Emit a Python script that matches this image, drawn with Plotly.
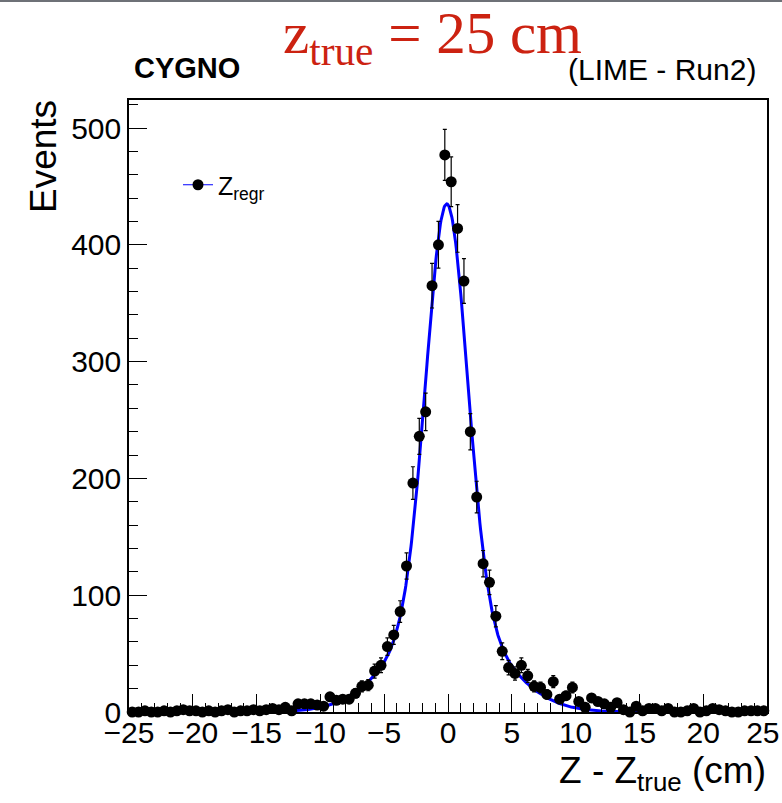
import numpy as np
import plotly.graph_objects as go

# ---------------- data ----------------
bin_low = -25.0
bin_width = 0.5
counts_left = [0, 0, 1, 0, 0, 1, 0, 1, 2, 1,
               1, 0, 1, 0, 1, 2, 0, 1, 1, 2,
               1, 2, 3, 2, 4, 1, 7, 7, 7, 6,
               5, 13, 10, 11, 11, 16, 22, 23, 35, 40,
               56, 66, 86, 125, 196, 236, 257, 365, 400, 477]
counts_right = [454, 414, 369, 240, 184, 127, 111, 82, 52, 38,
                33, 40, 31, 22, 21, 15, 26, 11, 14, 21,
                9, 4, 12, 9, 7, 4, 8, 2, 0, 5,
                1, 3, 3, 1, 3, 0, 0, 1, 3, 0,
                1, 3, 2, 1, 0, 0, 1, 1, 1, 1]
counts = np.array(counts_left + counts_right, dtype=float)
centers = bin_low + bin_width * (np.arange(len(counts)) + 0.5)
errors = np.sqrt(counts)

# fit (double gaussian) parameters
fit_mean = -0.1
fit_amp1, fit_sigma1 = 351.0, 1.6
fit_amp2, fit_sigma2 = 84.0, 4.0

x_ticks = [-25, -20, -15, -10, -5, 0, 5, 10, 15, 20, 25]
x_tick_labels = ["\u221225", "\u221220", "\u221215", "\u221210", "\u22125",
                 "0", "5", "10", "15", "20", "25\u00a0"]
y_ticks = [0, 100, 200, 300, 400, 500]

xf = np.linspace(-25, 25, 1001)
yf = (fit_amp1 * np.exp(-0.5 * ((xf - fit_mean) / fit_sigma1) ** 2)
      + fit_amp2 * np.exp(-0.5 * ((xf - fit_mean) / fit_sigma2) ** 2))

# ---------------- figure ----------------
W, H = 782, 803
L, R, T, B = 129, 15, 100, 91
pw, ph = W - L - R, H - T - B


def px(xp):
    return (xp - L) / pw


def py(yp):
    return (H - B - yp) / ph


SANS = "Liberation Sans, Arial, sans-serif"
SERIF = "Liberation Serif, Times New Roman, serif"

fig = go.Figure()
fig.add_trace(go.Scatter(x=xf, y=yf, mode="lines",
                         line=dict(color="#0000ff", width=3),
                         showlegend=False, hoverinfo="skip"))
fig.add_trace(go.Scatter(x=centers, y=counts, mode="markers",
                         marker=dict(color="black", size=11),
                         error_y=dict(type="data", array=errors, visible=True,
                                      color="black", thickness=1.2, width=2),
                         cliponaxis=False, showlegend=False))
fig.add_trace(go.Scatter(x=[None], y=[None], mode="lines+markers",
                         line=dict(color="#0000ff", width=1),
                         marker=dict(color="black", size=11),
                         name="Z<sub>regr</sub>"))

axis_common = dict(showgrid=False, zeroline=False, showline=True,
                   linecolor="black", linewidth=1.5, mirror=True,
                   ticks="inside", ticklen=18, tickwidth=1, tickcolor="black",
                   ticklabeloverflow="allow", automargin=False,
                   tickfont=dict(family=SANS, size=30, color="black"))

fig.update_xaxes(range=[-25, 25], tickvals=x_ticks, ticktext=x_tick_labels,
                 ticklabelstandoff=-7,
                 minor=dict(dtick=1, tick0=-25, ticks="inside", ticklen=9,
                            tickcolor="black", tickwidth=1),
                 **axis_common)
fig.update_yaxes(range=[0, 524], tickvals=y_ticks,
                 minor=dict(dtick=20, tick0=0, ticks="inside", ticklen=9,
                            tickcolor="black", tickwidth=1),
                 **axis_common)

annotations = [
    dict(text="<b>CYGNO</b>", x=px(132), y=py(68), xanchor="left", yanchor="middle",
         font=dict(family=SANS, size=29, color="black")),
    dict(text="(LIME - Run2)", x=px(758), y=py(70), xanchor="right", yanchor="middle",
         font=dict(family=SANS, size=30, color="black")),
    dict(text="z<sub>true</sub> = 25 cm", x=px(281), y=py(37), xanchor="left",
         yanchor="middle", font=dict(family=SERIF, size=59, color="#cc2211")),
    dict(text="Events", x=px(43), y=py(157), xanchor="center", yanchor="middle",
         textangle=-90, font=dict(family=SANS, size=37, color="black")),
    dict(text="Z - Z<sub>true</sub> (cm)", x=px(768), y=py(773), xanchor="right",
         yanchor="middle", font=dict(family=SANS, size=37, color="black")),
]
for a in annotations:
    a.update(xref="paper", yref="paper", showarrow=False)

fig.update_layout(
    width=W, height=H,
    margin=dict(l=L, r=R, t=T, b=B, pad=0, autoexpand=False),
    plot_bgcolor="white", paper_bgcolor="white",
    annotations=annotations,
    legend=dict(x=px(178), y=py(185), xanchor="left", yanchor="middle",
                bgcolor="rgba(0,0,0,0)", font=dict(family=SANS, size=25, color="black")),
    shapes=[dict(type="line", xref="paper", yref="paper",
                 x0=px(0), x1=px(W), y0=py(1), y1=py(1),
                 line=dict(color="#6e7177", width=2))],
)

fig.write_html("out.html")
